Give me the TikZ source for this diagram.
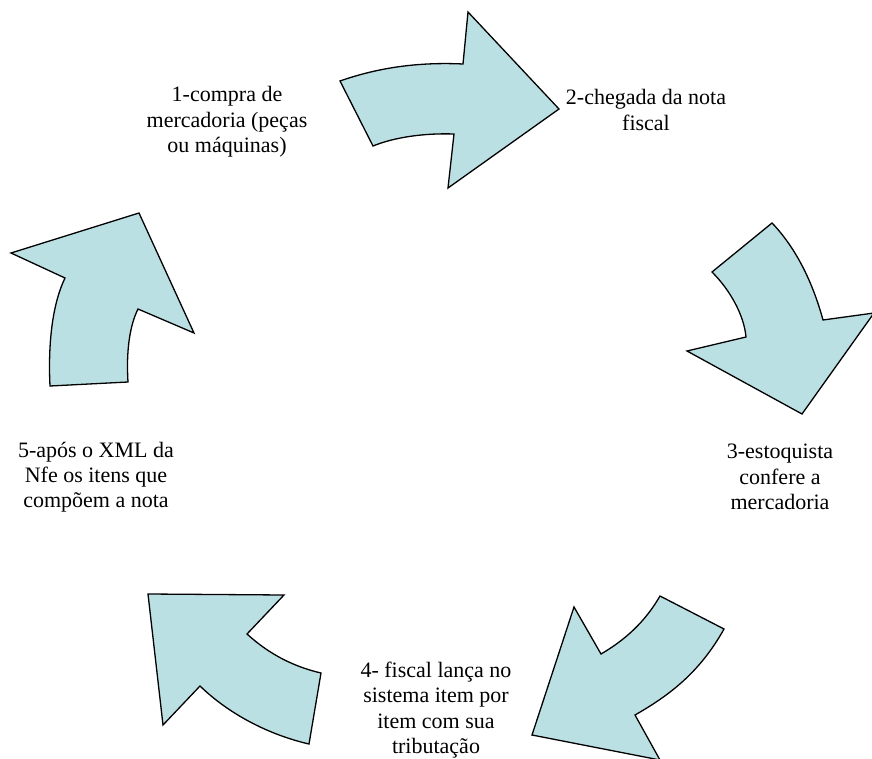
\documentclass[tikz,border=0pt]{standalone}
\usepackage{fontspec}
\setmainfont{Liberation Serif}
\definecolor{arrowfill}{RGB}{187,224,227}
\tikzset{
  cyclearrow/.style={fill=arrowfill, draw=black, line width=1.3pt, line join=miter},
  steptext/.style={align=center, font=\fontsize{22}{25.3}\selectfont, inner sep=0pt}
}
\begin{document}
\begin{tikzpicture}[x=1pt,y=-1pt]
\useasboundingbox (0,0) rectangle (872,759);
\clip (0,0) rectangle (872,759);
% arrow 1 (top)
\draw[cyclearrow] (340,81) .. controls (380,67) and (420,62) .. (463,64)
  -- (468,12) -- (559,109) -- (448,188) -- (454,134)
  .. controls (425,133) and (395,137) .. (373,146) -- cycle;
% arrow 2 (right)
\draw[cyclearrow] (772,223) -- (712,272)
  .. controls (730,290) and (744,315) .. (746,337)
  -- (687,351) -- (802,414) -- (874,313) -- (823,320)
  .. controls (812,280) and (795,247) .. (772,223) -- cycle;
% arrow 3 (bottom right)
\draw[cyclearrow] (660,596) -- (724,629)
  .. controls (700,672) and (670,695) .. (635,715)
  -- (660,760) -- (532,735) -- (574,607) -- (601,654)
  .. controls (625,640) and (645,622) .. (660,596) -- cycle;
% arrow 4 (bottom left)
\draw[cyclearrow] (148,594) -- (284,595) -- (247,634)
  .. controls (270,655) and (295,667) .. (321,673)
  -- (309,744)
  .. controls (270,735) and (230,715) .. (200,686)
  -- (163,725) -- cycle;
% arrow 5 (left)
\draw[cyclearrow] (11,253) -- (139,213) -- (194,333) -- (138,309)
  .. controls (130,325) and (126,350) .. (128,382)
  -- (50,386)
  .. controls (48,345) and (52,305) .. (65,278) -- cycle;
% texts
\node[steptext] (t1) at (227,122) {1-compra de\\mercadoria (peças\\ou máquinas)};
\node[steptext] (t2) at (646,110) {2-chegada da nota\\fiscal};
\node[steptext] (t3) at (780,477) {3-estoquista\\confere a\\mercadoria};
\node[steptext] (t4) at (436,710) {4- fiscal lança no\\sistema item por\\item com sua\\tributação};
\node[steptext] (t5) at (96,477) {5-após o XML da\\Nfe os itens que\\compõem a nota};
\end{tikzpicture}
\end{document}
